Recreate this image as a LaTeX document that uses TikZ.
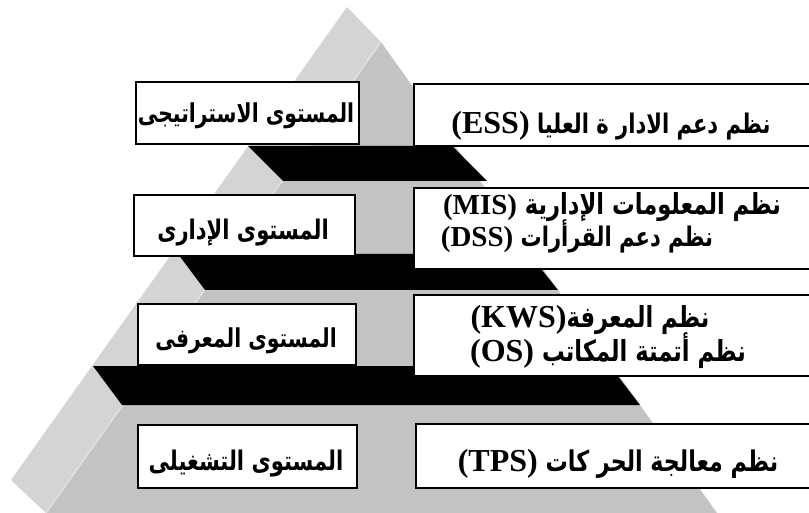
\documentclass[tikz,border=0pt]{standalone}
\usepackage{fontspec}
\TeXXeTstate=1
\newfontfamily\arabicfont[Script=Arabic,FakeStretch=0.78]{DejaVu Sans}
\newfontfamily\latinfont{Liberation Serif}
% Arabic bold font at a given size
\newcommand\arsize[1]{\fontsize{#1}{#1}\selectfont\arabicfont\bfseries}
% Latin abbreviation inside an Arabic line (optional size)
\newcommand\lat[2][32]{\beginL{\fontsize{#1}{#1}\selectfont\latinfont\bfseries #2}\endL}
\definecolor{faceLight}{HTML}{D4D4D4}
\definecolor{faceDark}{HTML}{C3C3C3}
\definecolor{ridgeLine}{HTML}{E4E4E4}
\begin{document}
\begin{tikzpicture}[x=1pt,y=-1pt,
  levelbox/.style={draw=black,line width=1.6pt,fill=white,inner sep=0pt,anchor=north west},
  lbl/.style={anchor=base,inner sep=0pt}]
\useasboundingbox (0,0) rectangle (809,513);

% pyramid faces
\fill[faceLight] (347,7) -- (381,42) -- (46,513) -- (11,480) -- cycle;
\fill[faceDark] (381,42) -- (717,513) -- (46,513) -- cycle;
\draw[ridgeLine,line width=1.2pt] (381,42) -- (46,513);

% black steps between the levels
\fill[black] (248,146) -- (452,146) -- (487,181) -- (283,181) -- cycle;
\fill[black] (178,254) -- (529,254) -- (558,290) -- (205,290) -- cycle;
\fill[black] (93,366) -- (610,366) -- (640,405) -- (122,405) -- cycle;

% level boxes (left) and system boxes (right)
\node[levelbox,minimum width=223,minimum height=62] (l1) at (135,81) {};
\node[levelbox,minimum width=410,minimum height=62] (r1) at (413,83) {};
\node[levelbox,minimum width=221,minimum height=61] (l2) at (133,194) {};
\node[levelbox,minimum width=410,minimum height=81] (r2) at (413,187) {};
\node[levelbox,minimum width=218,minimum height=61] (l3) at (137,303) {};
\node[levelbox,minimum width=410,minimum height=81] (r3) at (413,294) {};
\node[levelbox,minimum width=219,minimum height=63] (l4) at (137,424) {};
\node[levelbox,minimum width=410,minimum height=64] (r4) at (415,423) {};

% labels
\node[lbl] (t1l) at (246,123) {\arsize{26}\beginR المستوى الاستراتيجى\endR};
\node[lbl] (t1r) at (611,134) {\arsize{27}\beginR نظم دعم الادار ة العليا \lat{(ESS)}\endR};
\node[lbl] (t2l) at (243,240) {\arsize{27}\beginR المستوى الإدارى\endR};
\node[lbl] (t2ra) at (612,215) {\arsize{29}\beginR نظم المعلومات الإدارية \lat[29]{(MIS)}\endR};
\node[lbl] (t2rb) at (577,247) {\arsize{27}\beginR نظم دعم القرأرات \lat[29]{(DSS)}\endR};
\node[lbl] (t3l) at (246,347) {\arsize{26}\beginR المستوى المعرفى\endR};
\node[lbl] (t3ra) at (590,327) {\arsize{29}\beginR نظم المعرفة\lat{(KWS)}\endR};
\node[lbl] (t3rb) at (608,361) {\arsize{29}\beginR نظم أتمتة المكاتب \lat{(OS)}\endR};
\node[lbl] (t4l) at (246,470) {\arsize{27}\beginR المستوى التشغيلى\endR};
\node[lbl] (t4r) at (618,471) {\arsize{28.5}\beginR نظم معالجة الحر كات \lat{(TPS)}\endR};
\end{tikzpicture}
\end{document}
